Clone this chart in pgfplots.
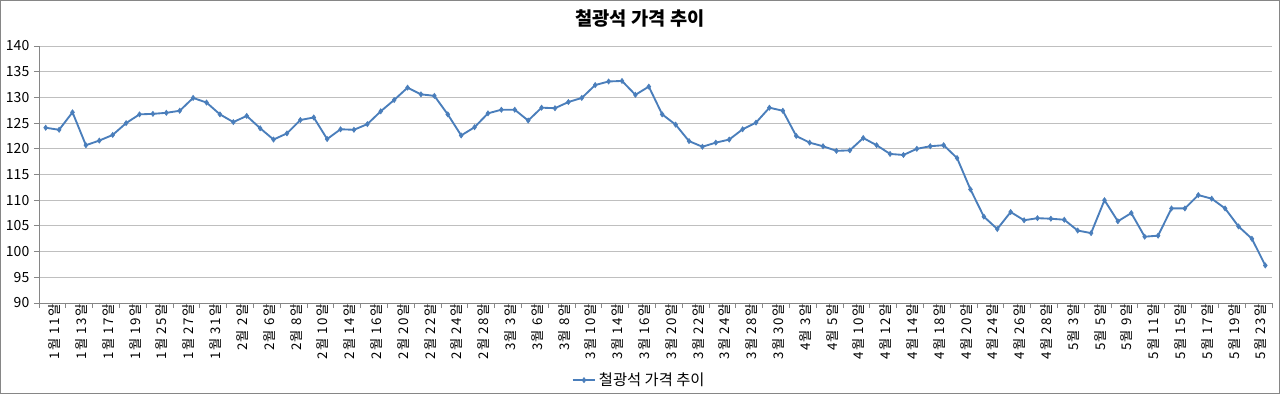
\documentclass[border=0pt]{standalone}
\usepackage{fontspec}
\setmainfont{Noto Sans CJK KR}
\newfontfamily\tickfont[LetterSpace=10]{Noto Sans CJK KR}
\usepackage{pgfplots}
\pgfplotsset{compat=1.18}
\usepackage{pgfplotstable}
\definecolor{series}{HTML}{4A7EBB}
\definecolor{gridc}{HTML}{BFBFBF}
\definecolor{axisc}{HTML}{868686}
\pgfplotstableread{
x y
0 124.1
1 123.7
2 127.1
3 120.7
4 121.6
5 122.7
6 125.0
7 126.7
8 126.8
9 127.0
10 127.4
11 129.9
12 129.0
13 126.7
14 125.2
15 126.4
16 124.0
17 121.8
18 123.0
19 125.6
20 126.1
21 121.9
22 123.8
23 123.7
24 124.8
25 127.3
26 129.5
27 131.9
28 130.6
29 130.3
30 126.7
31 122.6
32 124.2
33 126.9
34 127.6
35 127.6
36 125.5
37 128.0
38 127.9
39 129.1
40 129.9
41 132.4
42 133.1
43 133.2
44 130.5
45 132.1
46 126.7
47 124.7
48 121.5
49 120.4
50 121.2
51 121.8
52 123.8
53 125.1
54 128.0
55 127.4
56 122.5
57 121.2
58 120.5
59 119.6
60 119.7
61 122.1
62 120.7
63 119.0
64 118.8
65 120.0
66 120.5
67 120.7
68 118.2
69 112.1
70 106.8
71 104.4
72 107.7
73 106.1
74 106.5
75 106.4
76 106.2
77 104.1
78 103.6
79 110.0
80 105.9
81 107.5
82 102.9
83 103.1
84 108.4
85 108.4
86 111.0
87 110.3
88 108.4
89 104.9
90 102.5
91 97.3
}\ironore
\begin{document}
\begin{tikzpicture}
\useasboundingbox (0,0) rectangle (960pt,295.5pt);
\draw[axisc, line width=0.75pt] (0.375pt,0.375pt) rectangle (959.625pt,295.125pt);
\node[font=\fontsize{14}{16}\selectfont\bfseries] at (480pt,281.5pt) {철광석 가격 추이};
\begin{axis}[
  at={(29.25pt,68.25pt)}, anchor=south west,
  width=924.75pt, height=192.75pt, scale only axis,
  xmin=-0.5, xmax=91.5, ymin=90, ymax=140,
  axis x line*=bottom, axis y line*=left,
  axis line style={axisc, line width=0.75pt},
  ytick={90,95,...,140},
  ymajorgrids, grid style={gridc, line width=0.75pt},
  tick align=outside, major tick length=3.75pt,
  tick style={axisc, line width=0.75pt},
  xtick={-0.5,0.5,...,91.5},
  xticklabels={},
  extra x ticks={0,2,...,90},
  extra x tick style={major tick length=0pt},
  extra x tick labels={1월 11일,1월 13일,1월 17일,1월 19일,1월 25일,1월 27일,1월 31일,2월 2일,2월 6일,2월 8일,2월 10일,2월 14일,2월 16일,2월 20일,2월 22일,2월 24일,2월 28일,3월 3일,3월 6일,3월 8일,3월 10일,3월 14일,3월 16일,3월 20일,3월 22일,3월 24일,3월 28일,3월 30일,4월 3일,4월 5일,4월 10일,4월 12일,4월 14일,4월 18일,4월 20일,4월 24일,4월 26일,4월 28일,5월 3일,5월 5일,5월 9일,5월 11일,5월 15일,5월 17일,5월 19일,5월 23일},
  xticklabel style={rotate=90, anchor=east, font=\tickfont\fontsize{10}{11}\selectfont, inner sep=1pt, yshift=-6.75pt},
  yticklabel style={font=\fontsize{10.5}{12}\selectfont},
  /pgf/number format/assume math mode=true,
  legend style={at={(0.487,-0.30)}, anchor=center, draw=none, fill=none, font=\fontsize{11.5}{13}\selectfont},
  legend cell align=left,
]
\addplot[series, line width=1.4pt, mark=diamond*, mark size=1.9pt, mark options={fill=series, line width=0.5pt}] table[x=x,y=y] {\ironore};
\addlegendentry{철광석 가격 추이}
\end{axis}
\end{tikzpicture}
\end{document}
